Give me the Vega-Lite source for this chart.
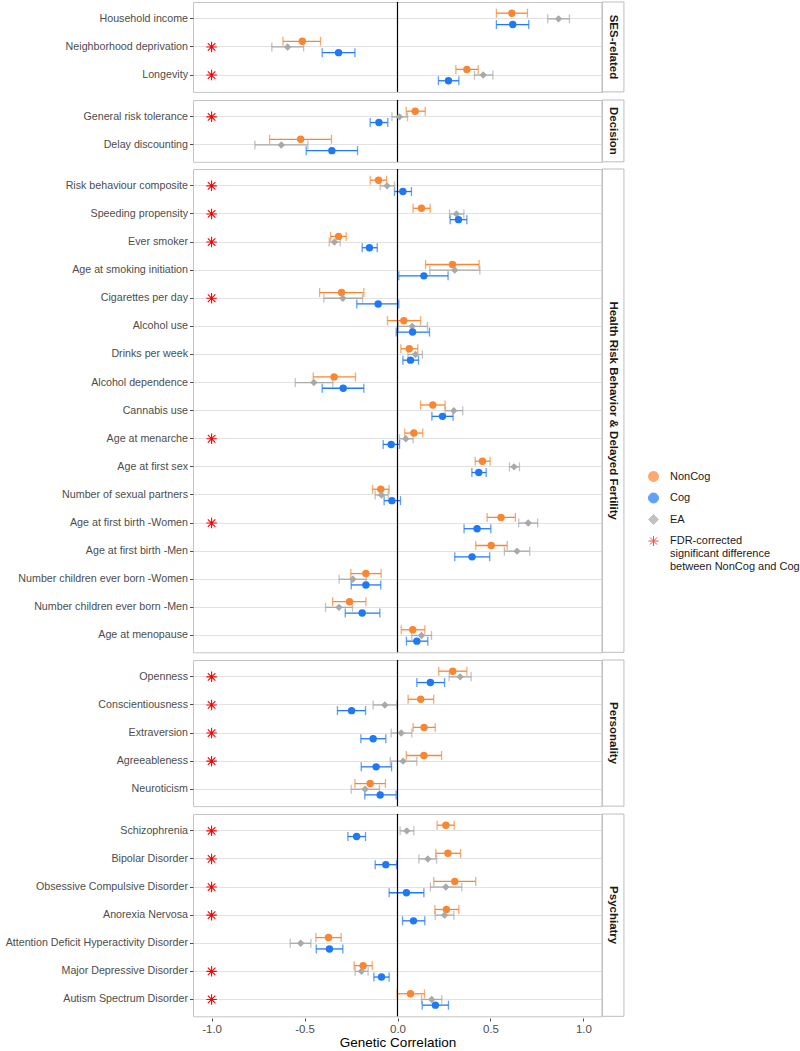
{
  "$schema": "https://vega.github.io/schema/vega-lite/v6.json",
  "background": "white",
  "padding": {"left": 4, "top": 0, "right": 5, "bottom": 0},
  "config": {
    "font": "Liberation Sans",
    "view": {"stroke": "#c4c4c4", "strokeWidth": 1},
    "axis": {"domain": false, "labelFont": "Liberation Sans", "labelColor": "#4d4d4d", "labelFontSize": 10.7, "tickColor": "#4d4d4d", "tickSize": 3.5, "gridColor": "#e4e4e4", "gridWidth": 1},
    "legend": {"labelFont": "Liberation Sans", "labelFontSize": 11, "labelColor": "#1a1a1a", "padding": 0, "symbolStrokeWidth": 1}
  },
  "data": {"values": [
    {"group": "SES-related", "trait": "Household income", "order": 1, "type": "NonCog", "rg": 0.615, "lo": 0.532, "hi": 0.699},
    {"group": "SES-related", "trait": "Household income", "order": 1, "type": "EA", "rg": 0.866, "lo": 0.808, "hi": 0.925},
    {"group": "SES-related", "trait": "Household income", "order": 1, "type": "Cog", "rg": 0.620, "lo": 0.532, "hi": 0.706},
    {"group": "SES-related", "trait": "Neighborhood deprivation", "order": 2, "type": "NonCog", "rg": -0.512, "lo": -0.616, "hi": -0.414},
    {"group": "SES-related", "trait": "Neighborhood deprivation", "order": 2, "type": "EA", "rg": -0.591, "lo": -0.676, "hi": -0.505},
    {"group": "SES-related", "trait": "Neighborhood deprivation", "order": 2, "type": "Cog", "rg": -0.317, "lo": -0.405, "hi": -0.229},
    {"group": "SES-related", "trait": "Longevity", "order": 3, "type": "NonCog", "rg": 0.373, "lo": 0.314, "hi": 0.434},
    {"group": "SES-related", "trait": "Longevity", "order": 3, "type": "EA", "rg": 0.461, "lo": 0.414, "hi": 0.513},
    {"group": "SES-related", "trait": "Longevity", "order": 3, "type": "Cog", "rg": 0.274, "lo": 0.220, "hi": 0.330},
    {"group": "Decision", "trait": "General risk tolerance", "order": 4, "type": "NonCog", "rg": 0.095, "lo": 0.047, "hi": 0.149},
    {"group": "Decision", "trait": "General risk tolerance", "order": 4, "type": "EA", "rg": 0.011, "lo": -0.030, "hi": 0.054},
    {"group": "Decision", "trait": "General risk tolerance", "order": 4, "type": "Cog", "rg": -0.100, "lo": -0.147, "hi": -0.052},
    {"group": "Decision", "trait": "Delay discounting", "order": 5, "type": "NonCog", "rg": -0.521, "lo": -0.688, "hi": -0.355},
    {"group": "Decision", "trait": "Delay discounting", "order": 5, "type": "EA", "rg": -0.625, "lo": -0.767, "hi": -0.482},
    {"group": "Decision", "trait": "Delay discounting", "order": 5, "type": "Cog", "rg": -0.353, "lo": -0.491, "hi": -0.215},
    {"group": "Health Risk Behavior & Delayed Fertility", "trait": "Risk behaviour composite", "order": 6, "type": "NonCog", "rg": -0.102, "lo": -0.147, "hi": -0.059},
    {"group": "Health Risk Behavior & Delayed Fertility", "trait": "Risk behaviour composite", "order": 6, "type": "EA", "rg": -0.056, "lo": -0.093, "hi": -0.016},
    {"group": "Health Risk Behavior & Delayed Fertility", "trait": "Risk behaviour composite", "order": 6, "type": "Cog", "rg": 0.029, "lo": -0.016, "hi": 0.075},
    {"group": "Health Risk Behavior & Delayed Fertility", "trait": "Speeding propensity", "order": 7, "type": "NonCog", "rg": 0.129, "lo": 0.084, "hi": 0.176},
    {"group": "Health Risk Behavior & Delayed Fertility", "trait": "Speeding propensity", "order": 7, "type": "EA", "rg": 0.317, "lo": 0.280, "hi": 0.357},
    {"group": "Health Risk Behavior & Delayed Fertility", "trait": "Speeding propensity", "order": 7, "type": "Cog", "rg": 0.328, "lo": 0.283, "hi": 0.373},
    {"group": "Health Risk Behavior & Delayed Fertility", "trait": "Ever smoker", "order": 8, "type": "NonCog", "rg": -0.317, "lo": -0.360, "hi": -0.276},
    {"group": "Health Risk Behavior & Delayed Fertility", "trait": "Ever smoker", "order": 8, "type": "EA", "rg": -0.339, "lo": -0.367, "hi": -0.308},
    {"group": "Health Risk Behavior & Delayed Fertility", "trait": "Ever smoker", "order": 8, "type": "Cog", "rg": -0.151, "lo": -0.190, "hi": -0.109},
    {"group": "Health Risk Behavior & Delayed Fertility", "trait": "Age at smoking initiation", "order": 9, "type": "NonCog", "rg": 0.296, "lo": 0.151, "hi": 0.439},
    {"group": "Health Risk Behavior & Delayed Fertility", "trait": "Age at smoking initiation", "order": 9, "type": "EA", "rg": 0.308, "lo": 0.174, "hi": 0.443},
    {"group": "Health Risk Behavior & Delayed Fertility", "trait": "Age at smoking initiation", "order": 9, "type": "Cog", "rg": 0.142, "lo": 0.007, "hi": 0.272},
    {"group": "Health Risk Behavior & Delayed Fertility", "trait": "Cigarettes per day", "order": 10, "type": "NonCog", "rg": -0.301, "lo": -0.419, "hi": -0.181},
    {"group": "Health Risk Behavior & Delayed Fertility", "trait": "Cigarettes per day", "order": 10, "type": "EA", "rg": -0.294, "lo": -0.396, "hi": -0.188},
    {"group": "Health Risk Behavior & Delayed Fertility", "trait": "Cigarettes per day", "order": 10, "type": "Cog", "rg": -0.104, "lo": -0.219, "hi": 0.007},
    {"group": "Health Risk Behavior & Delayed Fertility", "trait": "Alcohol use", "order": 11, "type": "NonCog", "rg": 0.034, "lo": -0.054, "hi": 0.124},
    {"group": "Health Risk Behavior & Delayed Fertility", "trait": "Alcohol use", "order": 11, "type": "EA", "rg": 0.079, "lo": 0.005, "hi": 0.161},
    {"group": "Health Risk Behavior & Delayed Fertility", "trait": "Alcohol use", "order": 11, "type": "Cog", "rg": 0.081, "lo": -0.007, "hi": 0.172},
    {"group": "Health Risk Behavior & Delayed Fertility", "trait": "Drinks per week", "order": 12, "type": "NonCog", "rg": 0.063, "lo": 0.018, "hi": 0.109},
    {"group": "Health Risk Behavior & Delayed Fertility", "trait": "Drinks per week", "order": 12, "type": "EA", "rg": 0.097, "lo": 0.056, "hi": 0.134},
    {"group": "Health Risk Behavior & Delayed Fertility", "trait": "Drinks per week", "order": 12, "type": "Cog", "rg": 0.070, "lo": 0.029, "hi": 0.113},
    {"group": "Health Risk Behavior & Delayed Fertility", "trait": "Alcohol dependence", "order": 13, "type": "NonCog", "rg": -0.341, "lo": -0.453, "hi": -0.226},
    {"group": "Health Risk Behavior & Delayed Fertility", "trait": "Alcohol dependence", "order": 13, "type": "EA", "rg": -0.450, "lo": -0.550, "hi": -0.348},
    {"group": "Health Risk Behavior & Delayed Fertility", "trait": "Alcohol dependence", "order": 13, "type": "Cog", "rg": -0.292, "lo": -0.405, "hi": -0.181},
    {"group": "Health Risk Behavior & Delayed Fertility", "trait": "Cannabis use", "order": 14, "type": "NonCog", "rg": 0.190, "lo": 0.124, "hi": 0.256},
    {"group": "Health Risk Behavior & Delayed Fertility", "trait": "Cannabis use", "order": 14, "type": "EA", "rg": 0.303, "lo": 0.256, "hi": 0.351},
    {"group": "Health Risk Behavior & Delayed Fertility", "trait": "Cannabis use", "order": 14, "type": "Cog", "rg": 0.242, "lo": 0.185, "hi": 0.299},
    {"group": "Health Risk Behavior & Delayed Fertility", "trait": "Age at menarche", "order": 15, "type": "NonCog", "rg": 0.088, "lo": 0.039, "hi": 0.136},
    {"group": "Health Risk Behavior & Delayed Fertility", "trait": "Age at menarche", "order": 15, "type": "EA", "rg": 0.045, "lo": 0.011, "hi": 0.084},
    {"group": "Health Risk Behavior & Delayed Fertility", "trait": "Age at menarche", "order": 15, "type": "Cog", "rg": -0.034, "lo": -0.077, "hi": 0.011},
    {"group": "Health Risk Behavior & Delayed Fertility", "trait": "Age at first sex", "order": 16, "type": "NonCog", "rg": 0.457, "lo": 0.418, "hi": 0.498},
    {"group": "Health Risk Behavior & Delayed Fertility", "trait": "Age at first sex", "order": 16, "type": "EA", "rg": 0.627, "lo": 0.602, "hi": 0.656},
    {"group": "Health Risk Behavior & Delayed Fertility", "trait": "Age at first sex", "order": 16, "type": "Cog", "rg": 0.437, "lo": 0.400, "hi": 0.477},
    {"group": "Health Risk Behavior & Delayed Fertility", "trait": "Number of sexual partners", "order": 17, "type": "NonCog", "rg": -0.090, "lo": -0.134, "hi": -0.045},
    {"group": "Health Risk Behavior & Delayed Fertility", "trait": "Number of sexual partners", "order": 17, "type": "EA", "rg": -0.086, "lo": -0.120, "hi": -0.050},
    {"group": "Health Risk Behavior & Delayed Fertility", "trait": "Number of sexual partners", "order": 17, "type": "Cog", "rg": -0.030, "lo": -0.072, "hi": 0.016},
    {"group": "Health Risk Behavior & Delayed Fertility", "trait": "Age at first birth -Women", "order": 18, "type": "NonCog", "rg": 0.557, "lo": 0.482, "hi": 0.634},
    {"group": "Health Risk Behavior & Delayed Fertility", "trait": "Age at first birth -Women", "order": 18, "type": "EA", "rg": 0.703, "lo": 0.652, "hi": 0.754},
    {"group": "Health Risk Behavior & Delayed Fertility", "trait": "Age at first birth -Women", "order": 18, "type": "Cog", "rg": 0.428, "lo": 0.358, "hi": 0.502},
    {"group": "Health Risk Behavior & Delayed Fertility", "trait": "Age at first birth -Men", "order": 19, "type": "NonCog", "rg": 0.504, "lo": 0.421, "hi": 0.590},
    {"group": "Health Risk Behavior & Delayed Fertility", "trait": "Age at first birth -Men", "order": 19, "type": "EA", "rg": 0.643, "lo": 0.575, "hi": 0.711},
    {"group": "Health Risk Behavior & Delayed Fertility", "trait": "Age at first birth -Men", "order": 19, "type": "Cog", "rg": 0.401, "lo": 0.308, "hi": 0.496},
    {"group": "Health Risk Behavior & Delayed Fertility", "trait": "Number children ever born -Women", "order": 20, "type": "NonCog", "rg": -0.170, "lo": -0.251, "hi": -0.088},
    {"group": "Health Risk Behavior & Delayed Fertility", "trait": "Number children ever born -Women", "order": 20, "type": "EA", "rg": -0.240, "lo": -0.314, "hi": -0.168},
    {"group": "Health Risk Behavior & Delayed Fertility", "trait": "Number children ever born -Women", "order": 20, "type": "Cog", "rg": -0.170, "lo": -0.249, "hi": -0.090},
    {"group": "Health Risk Behavior & Delayed Fertility", "trait": "Number children ever born -Men", "order": 21, "type": "NonCog", "rg": -0.258, "lo": -0.349, "hi": -0.170},
    {"group": "Health Risk Behavior & Delayed Fertility", "trait": "Number children ever born -Men", "order": 21, "type": "EA", "rg": -0.315, "lo": -0.387, "hi": -0.242},
    {"group": "Health Risk Behavior & Delayed Fertility", "trait": "Number children ever born -Men", "order": 21, "type": "Cog", "rg": -0.190, "lo": -0.281, "hi": -0.095},
    {"group": "Health Risk Behavior & Delayed Fertility", "trait": "Age at menopause", "order": 22, "type": "NonCog", "rg": 0.082, "lo": 0.020, "hi": 0.147},
    {"group": "Health Risk Behavior & Delayed Fertility", "trait": "Age at menopause", "order": 22, "type": "EA", "rg": 0.129, "lo": 0.077, "hi": 0.183},
    {"group": "Health Risk Behavior & Delayed Fertility", "trait": "Age at menopause", "order": 22, "type": "Cog", "rg": 0.104, "lo": 0.048, "hi": 0.163},
    {"group": "Personality", "trait": "Openness", "order": 23, "type": "NonCog", "rg": 0.297, "lo": 0.222, "hi": 0.373},
    {"group": "Personality", "trait": "Openness", "order": 23, "type": "EA", "rg": 0.337, "lo": 0.278, "hi": 0.396},
    {"group": "Personality", "trait": "Openness", "order": 23, "type": "Cog", "rg": 0.177, "lo": 0.104, "hi": 0.253},
    {"group": "Personality", "trait": "Conscientiousness", "order": 24, "type": "NonCog", "rg": 0.125, "lo": 0.057, "hi": 0.195},
    {"group": "Personality", "trait": "Conscientiousness", "order": 24, "type": "EA", "rg": -0.068, "lo": -0.131, "hi": -0.004},
    {"group": "Personality", "trait": "Conscientiousness", "order": 24, "type": "Cog", "rg": -0.247, "lo": -0.323, "hi": -0.172},
    {"group": "Personality", "trait": "Extraversion", "order": 25, "type": "NonCog", "rg": 0.143, "lo": 0.084, "hi": 0.203},
    {"group": "Personality", "trait": "Extraversion", "order": 25, "type": "EA", "rg": 0.020, "lo": -0.034, "hi": 0.077},
    {"group": "Personality", "trait": "Extraversion", "order": 25, "type": "Cog", "rg": -0.131, "lo": -0.197, "hi": -0.063},
    {"group": "Personality", "trait": "Agreeableness", "order": 26, "type": "NonCog", "rg": 0.142, "lo": 0.047, "hi": 0.237},
    {"group": "Personality", "trait": "Agreeableness", "order": 26, "type": "EA", "rg": 0.030, "lo": -0.039, "hi": 0.104},
    {"group": "Personality", "trait": "Agreeableness", "order": 26, "type": "Cog", "rg": -0.115, "lo": -0.195, "hi": -0.032},
    {"group": "Personality", "trait": "Neuroticism", "order": 27, "type": "NonCog", "rg": -0.147, "lo": -0.229, "hi": -0.065},
    {"group": "Personality", "trait": "Neuroticism", "order": 27, "type": "EA", "rg": -0.174, "lo": -0.249, "hi": -0.097},
    {"group": "Personality", "trait": "Neuroticism", "order": 27, "type": "Cog", "rg": -0.093, "lo": -0.176, "hi": -0.007},
    {"group": "Psychiatry", "trait": "Schizophrenia", "order": 28, "type": "NonCog", "rg": 0.260, "lo": 0.213, "hi": 0.305},
    {"group": "Psychiatry", "trait": "Schizophrenia", "order": 28, "type": "EA", "rg": 0.050, "lo": 0.014, "hi": 0.088},
    {"group": "Psychiatry", "trait": "Schizophrenia", "order": 28, "type": "Cog", "rg": -0.220, "lo": -0.267, "hi": -0.172},
    {"group": "Psychiatry", "trait": "Bipolar Disorder", "order": 29, "type": "NonCog", "rg": 0.271, "lo": 0.206, "hi": 0.339},
    {"group": "Psychiatry", "trait": "Bipolar Disorder", "order": 29, "type": "EA", "rg": 0.163, "lo": 0.115, "hi": 0.210},
    {"group": "Psychiatry", "trait": "Bipolar Disorder", "order": 29, "type": "Cog", "rg": -0.063, "lo": -0.120, "hi": -0.005},
    {"group": "Psychiatry", "trait": "Obsessive Compulsive Disorder", "order": 30, "type": "NonCog", "rg": 0.308, "lo": 0.195, "hi": 0.421},
    {"group": "Psychiatry", "trait": "Obsessive Compulsive Disorder", "order": 30, "type": "EA", "rg": 0.260, "lo": 0.177, "hi": 0.346},
    {"group": "Psychiatry", "trait": "Obsessive Compulsive Disorder", "order": 30, "type": "Cog", "rg": 0.048, "lo": -0.045, "hi": 0.142},
    {"group": "Psychiatry", "trait": "Anorexia Nervosa", "order": 31, "type": "NonCog", "rg": 0.263, "lo": 0.201, "hi": 0.330},
    {"group": "Psychiatry", "trait": "Anorexia Nervosa", "order": 31, "type": "EA", "rg": 0.253, "lo": 0.203, "hi": 0.303},
    {"group": "Psychiatry", "trait": "Anorexia Nervosa", "order": 31, "type": "Cog", "rg": 0.086, "lo": 0.027, "hi": 0.147},
    {"group": "Psychiatry", "trait": "Attention Deficit Hyperactivity Disorder", "order": 32, "type": "NonCog", "rg": -0.371, "lo": -0.439, "hi": -0.303},
    {"group": "Psychiatry", "trait": "Attention Deficit Hyperactivity Disorder", "order": 32, "type": "EA", "rg": -0.521, "lo": -0.577, "hi": -0.466},
    {"group": "Psychiatry", "trait": "Attention Deficit Hyperactivity Disorder", "order": 32, "type": "Cog", "rg": -0.366, "lo": -0.437, "hi": -0.294},
    {"group": "Psychiatry", "trait": "Major Depressive Disorder", "order": 33, "type": "NonCog", "rg": -0.185, "lo": -0.233, "hi": -0.136},
    {"group": "Psychiatry", "trait": "Major Depressive Disorder", "order": 33, "type": "EA", "rg": -0.194, "lo": -0.228, "hi": -0.158},
    {"group": "Psychiatry", "trait": "Major Depressive Disorder", "order": 33, "type": "Cog", "rg": -0.086, "lo": -0.127, "hi": -0.045},
    {"group": "Psychiatry", "trait": "Autism Spectrum Disorder", "order": 34, "type": "NonCog", "rg": 0.070, "lo": -0.002, "hi": 0.145},
    {"group": "Psychiatry", "trait": "Autism Spectrum Disorder", "order": 34, "type": "EA", "rg": 0.184, "lo": 0.129, "hi": 0.238},
    {"group": "Psychiatry", "trait": "Autism Spectrum Disorder", "order": 34, "type": "Cog", "rg": 0.204, "lo": 0.133, "hi": 0.274},
    {"group": "SES-related", "trait": "Neighborhood deprivation", "order": 2, "type": "FDR"},
    {"group": "SES-related", "trait": "Longevity", "order": 3, "type": "FDR"},
    {"group": "Decision", "trait": "General risk tolerance", "order": 4, "type": "FDR"},
    {"group": "Health Risk Behavior & Delayed Fertility", "trait": "Risk behaviour composite", "order": 6, "type": "FDR"},
    {"group": "Health Risk Behavior & Delayed Fertility", "trait": "Speeding propensity", "order": 7, "type": "FDR"},
    {"group": "Health Risk Behavior & Delayed Fertility", "trait": "Ever smoker", "order": 8, "type": "FDR"},
    {"group": "Health Risk Behavior & Delayed Fertility", "trait": "Cigarettes per day", "order": 10, "type": "FDR"},
    {"group": "Health Risk Behavior & Delayed Fertility", "trait": "Age at menarche", "order": 15, "type": "FDR"},
    {"group": "Health Risk Behavior & Delayed Fertility", "trait": "Age at first birth -Women", "order": 18, "type": "FDR"},
    {"group": "Personality", "trait": "Openness", "order": 23, "type": "FDR"},
    {"group": "Personality", "trait": "Conscientiousness", "order": 24, "type": "FDR"},
    {"group": "Personality", "trait": "Extraversion", "order": 25, "type": "FDR"},
    {"group": "Personality", "trait": "Agreeableness", "order": 26, "type": "FDR"},
    {"group": "Psychiatry", "trait": "Schizophrenia", "order": 28, "type": "FDR"},
    {"group": "Psychiatry", "trait": "Bipolar Disorder", "order": 29, "type": "FDR"},
    {"group": "Psychiatry", "trait": "Obsessive Compulsive Disorder", "order": 30, "type": "FDR"},
    {"group": "Psychiatry", "trait": "Anorexia Nervosa", "order": 31, "type": "FDR"},
    {"group": "Psychiatry", "trait": "Major Depressive Disorder", "order": 33, "type": "FDR"},
    {"group": "Psychiatry", "trait": "Autism Spectrum Disorder", "order": 34, "type": "FDR"}
  ]},
  "facet": {
    "row": {
      "field": "group", "type": "nominal", "title": null,
      "sort": ["SES-related", "Decision", "Health Risk Behavior & Delayed Fertility", "Personality", "Psychiatry"],
      "header": {"labelAngle": 90, "labelOrient": "right", "labelFontWeight": "bold", "labelFontSize": 11.5, "labelColor": "#1a1a1a", "labelPadding": -24, "labelBaseline": "middle", "labelAlign": "center", "labelFont": "Liberation Sans"}
    }
  },
  "spacing": 4,
  "resolve": {"scale": {"y": "independent"}, "axis": {"y": "independent"}},
  "spec": {
    "width": 409,
    "height": {"step": 28.1, "for": "position"},
    "layer": [
      {
        "transform": [{"filter": "datum.type === 'FDR'"}, {"aggregate": [{"op": "count", "as": "n"}], "groupby": ["group"]}],
        "mark": {"type": "rect", "filled": false, "stroke": "#bdbdbd", "strokeWidth": 1},
        "encoding": {
          "x": {"datum": 1.1, "type": "quantitative", "scale": {"domain": [-1.1, 1.1], "nice": false, "zero": false}},
          "x2": {"datum": 1.218}
        }
      },
      {
        "transform": [{"filter": "datum.type !== 'FDR'"}],
        "mark": {"type": "rule", "strokeWidth": 1.3},
        "encoding": {
          "x": {"field": "lo", "type": "quantitative", "scale": {"domain": [-1.1, 1.1], "nice": false, "zero": false},
            "axis": {
              "title": "Genetic Correlation", "titleFontSize": 13.5, "titleFontWeight": "normal", "titleColor": "black", "titlePadding": 1, "titleFont": "Liberation Sans",
              "values": [-1, -0.75, -0.5, -0.25, 0, 0.25, 0.5, 0.75, 1],
              "labelExpr": "abs(datum.value * 2 - round(datum.value * 2)) < 0.001 ? (datum.value < -0.001 ? '-' : '') + format(abs(datum.value), '.1f') : ''",
              "labelOverlap": false, "labelFlush": false, "labelFontSize": 11.5, "labelPadding": 2, "tickSize": 3,
              "tickOpacity": {"condition": {"test": "abs(datum.value * 2 - round(datum.value * 2)) < 0.001", "value": 1}, "value": 0},
              "gridColor": {"condition": {"test": "abs(datum.value * 2 - round(datum.value * 2)) < 0.001", "value": "#e2e2e2"}, "value": "#f0f0f0"}
            }},
          "x2": {"field": "hi"},
          "y": {"field": "trait", "type": "nominal", "sort": {"field": "order", "op": "min"}, "scale": {"type": "band", "paddingInner": 0, "paddingOuter": 0.1},
            "axis": {"title": null, "tickSize": 3.5, "labelPadding": 2, "grid": true, "gridColor": "#e2e2e2", "bandPosition": 0.5, "labelLimit": 300}},
          "yOffset": {"field": "type", "type": "nominal", "scale": {"type": "band", "domain": ["NonCog", "EA", "Cog"], "range": [0, 28.1], "paddingInner": 0, "paddingOuter": 0.974}},
          "color": {"field": "type", "type": "nominal", "scale": {"domain": ["NonCog", "Cog", "EA", "FDR"], "range": ["#FA8632", "#1F78F5", "#A9A9A9", "#FF0000"]}}
        }
      },
      {
        "transform": [{"filter": "datum.type !== 'FDR'"}],
        "mark": {"type": "tick", "size": 9, "thickness": 1.3},
        "encoding": {
          "x": {"field": "lo", "type": "quantitative"},
          "y": {"field": "trait", "type": "nominal", "sort": {"field": "order", "op": "min"}},
          "yOffset": {"field": "type", "type": "nominal"},
          "color": {"field": "type", "type": "nominal"}
        }
      },
      {
        "transform": [{"filter": "datum.type !== 'FDR'"}],
        "mark": {"type": "tick", "size": 9, "thickness": 1.3},
        "encoding": {
          "x": {"field": "hi", "type": "quantitative"},
          "y": {"field": "trait", "type": "nominal", "sort": {"field": "order", "op": "min"}},
          "yOffset": {"field": "type", "type": "nominal"},
          "color": {"field": "type", "type": "nominal"}
        }
      },
      {
        "transform": [{"filter": "datum.type === 'FDR'"}, {"aggregate": [{"op": "count", "as": "n"}], "groupby": ["group"]}],
        "mark": {"type": "rule", "color": "black", "strokeWidth": 1.2},
        "encoding": {"x": {"datum": 0, "type": "quantitative"}}
      },
      {
        "transform": [{"filter": "datum.type !== 'FDR'"}],
        "mark": {"type": "point", "filled": true, "opacity": 1, "strokeWidth": 0},
        "encoding": {
          "x": {"field": "rg", "type": "quantitative"},
          "y": {"field": "trait", "type": "nominal", "sort": {"field": "order", "op": "min"}},
          "yOffset": {"field": "type", "type": "nominal"},
          "color": {"field": "type", "type": "nominal",
            "legend": {"title": null, "orient": "none", "legendX": 455, "legendY": 469, "rowPadding": 6.5, "labelOffset": 11,
              "labelExpr": "datum.value === 'FDR' ? ['FDR-corrected', 'significant difference', 'between NonCog and Cog'] : datum.label",
              "encode": {
                "symbols": {
                  "fillOpacity": {"condition": {"test": "datum.value === 'FDR'", "value": 0}, "value": 1},
                  "stroke": {"condition": {"test": "datum.value === 'FDR'", "value": "#FF0000"}, "value": "transparent"},
                  "strokeWidth": {"value": 1.1},
                  "opacity": {"value": 1},
                  "size": {"condition": [{"test": "datum.value === 'FDR'", "value": 110}, {"test": "datum.value === 'EA'", "value": 36}], "value": 55}
                },
                "labels": {"lineHeight": {"value": 12}}
              }}},
          "shape": {"field": "type", "type": "nominal",
            "scale": {"domain": ["NonCog", "Cog", "EA", "FDR"], "range": ["circle", "circle", "diamond", "M-1,0H1M0,-1V1M-0.72,-0.72L0.72,0.72M-0.72,0.72L0.72,-0.72"]},
            "legend": {"title": null, "orient": "none", "legendX": 455, "legendY": 469, "rowPadding": 6.5, "labelOffset": 11,
              "labelExpr": "datum.value === 'FDR' ? ['FDR-corrected', 'significant difference', 'between NonCog and Cog'] : datum.label",
              "encode": {
                "symbols": {
                  "fillOpacity": {"condition": {"test": "datum.value === 'FDR'", "value": 0}, "value": 1},
                  "stroke": {"condition": {"test": "datum.value === 'FDR'", "value": "#FF0000"}, "value": "transparent"},
                  "strokeWidth": {"value": 1.1},
                  "opacity": {"value": 1},
                  "size": {"condition": [{"test": "datum.value === 'FDR'", "value": 110}, {"test": "datum.value === 'EA'", "value": 36}], "value": 55}
                },
                "labels": {"lineHeight": {"value": 12}}
              }}},
          "size": {"field": "type", "type": "nominal", "scale": {"domain": ["NonCog", "Cog", "EA"], "range": [55, 55, 36]}, "legend": null}
        }
      },
      {
        "transform": [{"filter": "datum.type === 'FDR'"}],
        "mark": {"type": "point", "filled": false, "opacity": 1, "strokeWidth": 1.1, "size": 110},
        "encoding": {
          "x": {"datum": -1, "type": "quantitative"},
          "y": {"field": "trait", "type": "nominal", "sort": {"field": "order", "op": "min"}},
          "color": {"field": "type", "type": "nominal"},
          "shape": {"field": "type", "type": "nominal"}
        }
      }
    ]
  }
}
